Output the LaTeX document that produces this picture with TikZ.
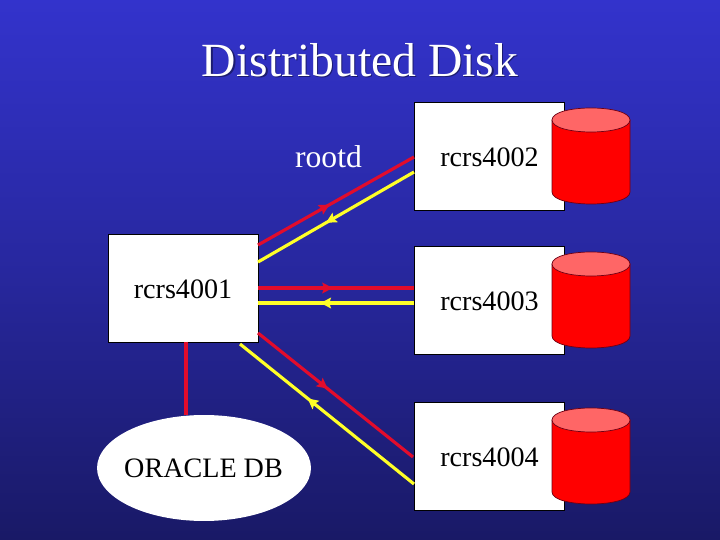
\documentclass[tikz,border=0pt]{standalone}
\usepackage{fontspec}
\setmainfont{Liberation Serif}
\usepackage{xcolor}
\usetikzlibrary{shapes.geometric}
\usetikzlibrary{decorations.markings}
\usetikzlibrary{arrows.meta}
\definecolor{slidetop}{RGB}{51,51,204}
\definecolor{slidebottom}{RGB}{25,25,102}
\definecolor{diskred}{RGB}{255,0,0}
\definecolor{disktop}{RGB}{255,102,102}
\definecolor{diskline}{RGB}{110,0,20}
\definecolor{linkred}{RGB}{226,12,44}
\definecolor{linkyellow}{RGB}{255,255,40}
\tikzset{
    host/.style={draw=black, fill=white, minimum width=3cm, minimum height=2.16cm, inner sep=0pt, line width=0.4pt, text height=11.6pt, text depth=0pt, font=\fontsize{16}{19}\selectfont},
    link/.style={line width=1.8pt},
    redlink/.style={link, draw=linkred},
    yellowlink/.style={link, draw=linkyellow},
    tipmark/.style={postaction={decorate, decoration={markings, mark=at position #1 with {\arrow{Stealth[length=6pt,width=6pt,inset=1pt]}}}}},
    tipback/.style={postaction={decorate, decoration={markings, mark=at position #1 with {\arrowreversed{Stealth[length=6pt,width=6pt,inset=1pt]}}}}}
}
\begin{document}
\begin{tikzpicture}[x=0.02cm, y=-0.02cm]
    \shade[top color=slidetop, bottom color=slidebottom, middle color=slidetop!55!slidebottom] (0,0) rectangle (720,540);
    \useasboundingbox (0,0) rectangle (720,540);

    \node[text=black!45!slidetop, font=\fontsize{27.1}{32}\selectfont] (titleshadow) at (361.5,61.5) {Distributed Disk};
    \node[text=white, font=\fontsize{27.1}{32}\selectfont] (title) at (360,60) {Distributed Disk};

    \node[host] (r1) at (183,288) {rcrs4001};
    \node[host] (r2) at (489.5,156) {rcrs4002};
    \node[host] (r3) at (489.5,300) {rcrs4003};
    \node[host] (r4) at (489.5,456) {rcrs4004};

    \foreach \yc in {120,264,420} {
        \draw[fill=diskred, draw=diskline, line width=0.4pt] (552,\yc) -- (552,\yc+72) .. controls (552,\yc+88) and (630,\yc+88) .. (630,\yc+72) -- (630,\yc) -- cycle;
        \draw[fill=disktop, draw=diskline, line width=0.4pt] (552,\yc) .. controls (552,\yc-16) and (630,\yc-16) .. (630,\yc) .. controls (630,\yc+16) and (552,\yc+16) .. (552,\yc) -- cycle;
    }

    \node[fill=white, ellipse, minimum width=4.28cm, minimum height=2.12cm, inner sep=0pt] (db) at (204,468) {};
    \node[font=\fontsize{16}{19}\selectfont] (dblabel) at (203.5,468.5) {ORACLE DB};
    \node[text=white, font=\fontsize{18}{22}\selectfont] (rootd) at (328.5,156.5) {rootd};

    \coordinate (a1) at (258,245);
    \coordinate (a2) at (414,157);
    \coordinate (b1) at (258,262);
    \coordinate (b2) at (414,172);
    \coordinate (c1) at (258,288);
    \coordinate (c2) at (414,288);
    \coordinate (e1) at (258,303);
    \coordinate (e2) at (414,303);
    \coordinate (f1) at (258,333);
    \coordinate (f2) at (413,457);
    \coordinate (g1) at (240,344);
    \coordinate (g2) at (414,484);
    \coordinate (h1) at (186,342);
    \coordinate (h2) at (186,415);

    \draw[redlink, tipmark=0.46] (a1) -- (a2);
    \draw[yellowlink, tipback=0.436] (b1) -- (b2);
    \draw[redlink, tipmark=0.48] (c1) -- (c2);
    \draw[yellowlink, tipback=0.40] (e1) -- (e2);
    \draw[redlink, tipmark=0.45] (f1) -- (f2);
    \draw[yellowlink, tipback=0.39] (g1) -- (g2);
    \draw[redlink] (h1) -- (h2);
\end{tikzpicture}
\end{document}
